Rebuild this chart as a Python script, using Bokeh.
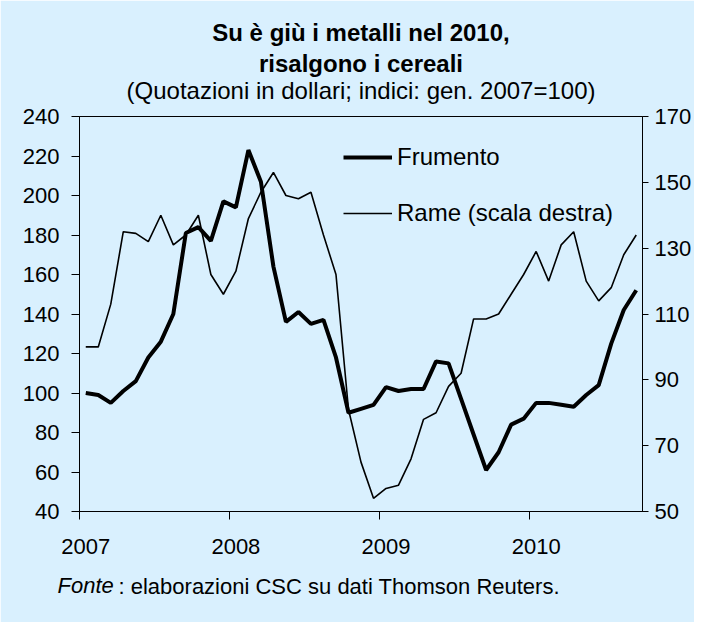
from bokeh.plotting import figure
from bokeh.models import (Range1d, LinearAxis, FixedTicker, Legend, LegendItem,
                          Title)
from bokeh.embed import file_html
from bokeh.resources import INLINE

# ---------------- data ----------------
months = list(range(45))  # Jan 2007 .. Sep 2010
year_labels = ["2007", "2008", "2009", "2010"]
year_positions = [0, 12, 24, 36]
year_boundaries = [-0.5, 11.5, 23.5, 35.5]

frumento = [100, 99, 95, 101, 106, 118, 126, 140, 181, 184, 177, 197,
            194, 223, 207, 164, 136, 141, 135, 137, 118, 90, 92, 94,
            103, 101, 102, 102, 116, 115, 97, 79, 61, 70, 84, 87,
            95, 95, 94, 93, 99, 104, 125, 142, 152]
rame = [100, 100, 113, 135, 134.5, 132, 140, 131, 134, 140, 122, 116,
        123, 139, 147, 153, 146, 145, 147, 134, 122, 81, 65, 54,
        57, 58, 66, 78, 80, 88, 92, 108.5, 108.5, 110, 116, 122,
        129, 120, 131, 135, 120, 114, 118, 128, 134]

left_ticks = [40, 60, 80, 100, 120, 140, 160, 180, 200, 220, 240]
right_ticks = [50, 70, 90, 110, 130, 150, 170]

series_names = ["Frumento", "Rame (scala destra)"]
title_line1 = "Su è giù i metalli nel 2010,"
title_line2 = "risalgono i cereali"
subtitle = "(Quotazioni in dollari; indici: gen. 2007=100)"
source_italic = "Fonte"
source_rest = ": elaborazioni CSC su dati Thomson Reuters."

# ---------------- style ----------------
BG = "#D9F0FE"
FONT = "Liberation Sans"

p = figure(width=694, height=622, output_backend="svg", toolbar_location=None,
           x_range=Range1d(-0.5, 44.5), y_range=Range1d(40, 240),
           x_axis_type=None, y_axis_type=None,
           min_border_left=79, min_border_right=49,
           min_border_top=116, min_border_bottom=111,
           background_fill_color=BG, border_fill_color=BG,
           outline_line_color="black", outline_line_width=1)
p.extra_y_ranges = {"right": Range1d(50, 170)}

def style_axis(ax, size="22px"):
    ax.axis_line_color = "black"
    ax.axis_line_width = 1
    ax.major_tick_line_color = "black"
    ax.minor_tick_line_color = None
    ax.major_tick_in = 0
    ax.major_label_text_font = FONT
    ax.major_label_text_font_size = size
    ax.major_label_text_color = "black"

xaxis = LinearAxis(ticker=FixedTicker(ticks=year_positions, minor_ticks=year_boundaries),
                   major_label_overrides={pos: lab for pos, lab in zip(year_positions, year_labels)})
style_axis(xaxis)
xaxis.major_tick_out = 0
xaxis.minor_tick_line_color = "black"
xaxis.minor_tick_out = 8
xaxis.minor_tick_in = 0
xaxis.major_label_standoff = 19
p.add_layout(xaxis, "below")

yleft = LinearAxis(ticker=FixedTicker(ticks=left_ticks))
style_axis(yleft)
yleft.major_tick_out = 8
yleft.major_label_standoff = 12
p.add_layout(yleft, "left")

yright = LinearAxis(y_range_name="right", ticker=FixedTicker(ticks=right_ticks))
style_axis(yright)
yright.major_tick_out = 6
yright.major_label_standoff = 6
p.add_layout(yright, "right")

r1 = p.line(months, frumento, line_width=4, line_color="black")
r2 = p.line(months, rame, line_width=1.6, line_color="black", y_range_name="right")

legend = Legend(items=[LegendItem(label=series_names[0], renderers=[r1]),
                       LegendItem(label=series_names[1], renderers=[r2])],
                location=(264, 284), glyph_width=49, glyph_height=28,
                label_height=28, spacing=28, label_standoff=5,
                padding=0, margin=0, background_fill_alpha=0,
                border_line_alpha=0, label_text_font=FONT,
                label_text_font_size="24px", label_text_color="black")
p.add_layout(legend)

# headings (stacked from the frame outward)
p.add_layout(Title(text=subtitle, align="center", text_font=FONT,
                   text_font_size="24px", text_font_style="normal",
                   text_color="black", standoff=25), "above")
p.add_layout(Title(text=title_line2, align="center", text_font=FONT,
                   text_font_size="24px", text_font_style="bold",
                   text_color="black", standoff=-28), "above")
p.add_layout(Title(text=title_line1, align="center", text_font=FONT,
                   text_font_size="24px", text_font_style="bold",
                   text_color="black", standoff=32), "above")

# source note (two styles on one line)
p.add_layout(Title(text=source_italic, align="left", offset=-22,
                   vertical_align="top", text_font=FONT,
                   text_font_size="22px", text_font_style="italic",
                   text_color="black", standoff=33), "below")
p.add_layout(Title(text=source_rest, align="left", offset=39,
                   vertical_align="top", text_font=FONT,
                   text_font_size="22px", text_font_style="normal",
                   text_color="black", standoff=-86), "below")

open("out.html", "w").write(file_html(p, INLINE))
